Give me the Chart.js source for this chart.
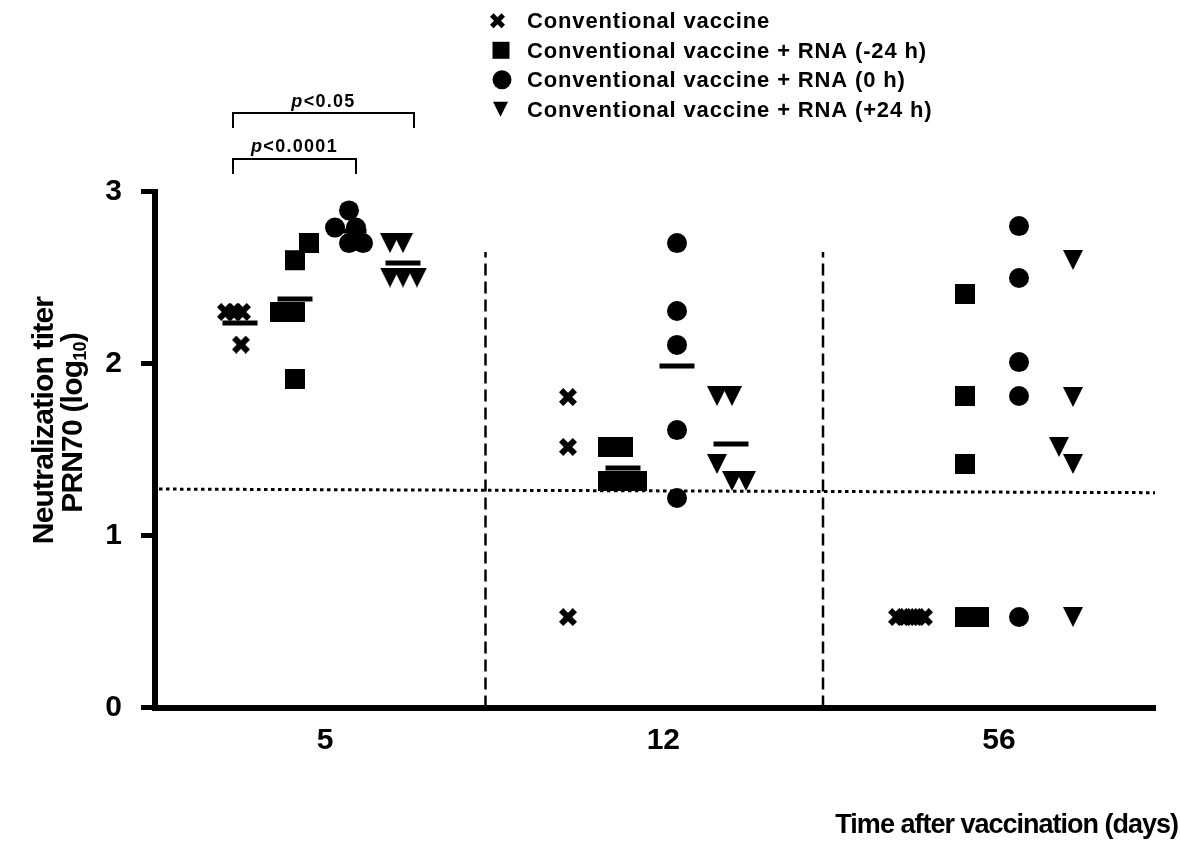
<!DOCTYPE html>
<html>
<head>
<meta charset="utf-8">
<script src="https://cdn.jsdelivr.net/npm/chart.js@4.4.1/dist/chart.umd.min.js"></script>
<style>
html,body{margin:0;padding:0;background:#fff;}
#c{display:block;}
</style>
</head>
<body>
<canvas id="c" width="1180" height="852"></canvas>
<script>
// ---------------- data ----------------
const days = ['5', '12', '56'];
const seriesNames = [
  'Conventional vaccine',
  'Conventional vaccine + RNA (-24 h)',
  'Conventional vaccine + RNA (0 h)',
  'Conventional vaccine + RNA (+24 h)'
];
// x: position on the day axis (group i spans i..i+1), y: log10 titer
const convX   = [0.213, 0.237, 0.261, 0.258,  1.239, 1.239, 1.239,  2.226, 2.247, 2.268, 2.286, 2.307];
const convY   = [2.30, 2.30, 2.30, 2.11,      1.805, 1.515, 0.526,  0.526, 0.526, 0.526, 0.526, 0.526];
const rnaM24X = [0.420, 0.462, 0.375, 0.420, 0.420,  1.359, 1.404, 1.359, 1.402, 1.446,  2.430, 2.430, 2.430, 2.430, 2.472];
const rnaM24Y = [2.60, 2.70, 2.30, 2.30, 1.91,       1.515, 1.515, 1.317, 1.317, 1.317,  2.404, 1.811, 1.416, 0.526, 0.526];
const rna0X   = [0.582, 0.540, 0.603, 0.582, 0.624,  1.566, 1.566, 1.566, 1.566, 1.566,  2.592, 2.592, 2.592, 2.592, 2.592];
const rna0Y   = [2.89, 2.79, 2.79, 2.70, 2.70,       2.70, 2.305, 2.108, 1.613, 1.218,   2.799, 2.497, 2.008, 1.811, 0.526];
const rnaP24X = [0.705, 0.744, 0.705, 0.744, 0.786,  1.686, 1.731, 1.686, 1.731, 1.773,  2.754, 2.754, 2.712, 2.754, 2.754];
const rnaP24Y = [2.70, 2.70, 2.50, 2.50, 2.50,       1.811, 1.811, 1.416, 1.317, 1.317,  2.602, 1.805, 1.515, 1.416, 0.526];
// group means (horizontal bars)
const meanX = [0.255, 0.420, 0.582, 0.744,  1.404, 1.566, 1.728];
const meanY = [2.235, 2.375, 2.77, 2.584,   1.392, 1.985, 1.532];
// limit of detection (dotted) and day dividers (dashed)
const lodX = [0.012, 3];
const lodY = [1.27, 1.249];
const dividerX = [0.9915, 2.004];
const dividerY = [0, 2.648];
const yTicks = [0, 1, 2, 3];
const dayTickPos = [0.51, 1.525, 2.532];
const brackets = [
  { from: 0.234, to: 0.777, level: 3.456, label: '<0.05' },
  { from: 0.234, to: 0.603, level: 3.189, label: '<0.0001' }
];

// ---------------- helpers ----------------
const FONT = '"Liberation Sans", Arial, Helvetica, sans-serif';
const zip = (xs, ys) => xs.map((x, i) => ({ x: x, y: ys[i] }));

function drawMarker(ctx, kind, x, y, s) {
  ctx.save();
  ctx.fillStyle = '#000';
  ctx.strokeStyle = '#000';
  if (kind === 'cross') {
    const lw = s / 3;
    const a = s / 2 - lw / (2 * Math.SQRT2);
    ctx.lineWidth = lw;
    ctx.lineCap = 'butt';
    ctx.beginPath();
    ctx.moveTo(x - a, y - a); ctx.lineTo(x + a, y + a);
    ctx.moveTo(x + a, y - a); ctx.lineTo(x - a, y + a);
    ctx.stroke();
  } else if (kind === 'square') {
    ctx.fillRect(x - s / 2, y - s / 2, s, s);
  } else if (kind === 'circle') {
    ctx.beginPath(); ctx.arc(x, y, s / 2, 0, Math.PI * 2); ctx.fill();
  } else if (kind === 'tri') {
    ctx.beginPath();
    ctx.moveTo(x - s / 2, y - s / 2); ctx.lineTo(x + s / 2, y - s / 2); ctx.lineTo(x, y + s / 2);
    ctx.closePath(); ctx.fill();
  }
  ctx.restore();
}
function markerCanvas(kind, s) {
  const c = document.createElement('canvas');
  c.width = s; c.height = s;
  drawMarker(c.getContext('2d'), kind, s / 2, s / 2, s);
  return c;
}
const crossImg = markerCanvas('cross', 18);
const triImg = markerCanvas('tri', 20);

const legendKinds = ['cross', 'square', 'circle', 'tri'];
const legendSizes = [15, 17, 19, 15];
const legendMarkerX = [497.5, 501, 502, 500.5];

const extras = {
  id: 'extras',
  afterDraw(chart) {
    const ctx = chart.ctx;
    const xs = chart.scales.x, ys = chart.scales.y;
    ctx.save();
    ctx.fillStyle = '#000';
    ctx.strokeStyle = '#000';

    // legend
    ctx.font = 'bold 22px ' + FONT;
    ctx.letterSpacing = '0.85px';
    ctx.textAlign = 'left';
    ctx.textBaseline = 'alphabetic';
    seriesNames.forEach((t, i) => {
      const base = 28.3 + i * 29.5;
      drawMarker(ctx, legendKinds[i], legendMarkerX[i], base - 7.5, legendSizes[i]);
      ctx.fillText(t, 527, base);
    });

    // significance brackets
    brackets.forEach(b => {
      const x1 = xs.getPixelForValue(b.from);
      const x2 = xs.getPixelForValue(b.to);
      const yy = ys.getPixelForValue(b.level);
      ctx.lineWidth = 2;
      ctx.beginPath();
      ctx.moveTo(x1, yy + 15); ctx.lineTo(x1, yy); ctx.lineTo(x2, yy); ctx.lineTo(x2, yy + 15);
      ctx.stroke();
      ctx.letterSpacing = '1.3px';
      ctx.font = 'italic bold 18px ' + FONT;
      const wp = ctx.measureText('p').width;
      ctx.font = 'bold 18px ' + FONT;
      const wr = ctx.measureText(b.label).width;
      const start = (x1 + x2) / 2 - (wp + wr) / 2;
      ctx.font = 'italic bold 18px ' + FONT;
      ctx.fillText('p', start, yy - 6.5);
      ctx.font = 'bold 18px ' + FONT;
      ctx.fillText(b.label, start + wp, yy - 6.5);
    });

    // y-axis title (two lines, with subscript)
    ctx.textAlign = 'center';
    ctx.font = 'bold 30px ' + FONT;
    ctx.letterSpacing = '-0.8px';
    ctx.save();
    ctx.translate(53, 420.5);
    ctx.rotate(-Math.PI / 2);
    ctx.fillText('Neutralization titer', 0, 0);
    ctx.restore();
    ctx.save();
    ctx.translate(82, 423);
    ctx.rotate(-Math.PI / 2);
    ctx.textAlign = 'left';
    const p1 = 'PRN70 (log', p2 = '10', p3 = ')';
    ctx.font = 'bold 30px ' + FONT;
    const w1 = ctx.measureText(p1).width, w3 = ctx.measureText(p3).width;
    ctx.font = 'bold 18px ' + FONT;
    const w2 = ctx.measureText(p2).width;
    let sx = -(w1 + w2 + w3) / 2;
    ctx.font = 'bold 30px ' + FONT;
    ctx.fillText(p1, sx, 0); sx += w1;
    ctx.font = 'bold 18px ' + FONT;
    ctx.fillText(p2, sx, 4); sx += w2;
    ctx.font = 'bold 30px ' + FONT;
    ctx.fillText(p3, sx, 0);
    ctx.restore();

    // x-axis title
    ctx.textAlign = 'right';
    ctx.font = 'bold 27px ' + FONT;
    ctx.letterSpacing = '-1px';
    ctx.fillText('Time after vaccination (days)', 1178, 833);
    ctx.restore();
  }
};

Chart.defaults.font.family = FONT;
Chart.defaults.color = '#000';

new Chart(document.getElementById('c'), {
  type: 'scatter',
  data: {
    datasets: [
      { label: seriesNames[0], data: zip(convX, convY), pointStyle: crossImg, pointRadius: 9 },
      { label: seriesNames[1], data: zip(rnaM24X, rnaM24Y), pointStyle: 'rect', pointRadius: 14.142,
        pointBorderWidth: 0, pointBackgroundColor: '#000' },
      { label: seriesNames[2], data: zip(rna0X, rna0Y), pointStyle: 'circle', pointRadius: 10,
        pointBorderWidth: 0, pointBackgroundColor: '#000' },
      { label: seriesNames[3], data: zip(rnaP24X, rnaP24Y), pointStyle: triImg, pointRadius: 10 },
      { label: 'mean', data: zip(meanX, meanY), pointStyle: 'line', pointRadius: 17.5,
        pointBorderWidth: 5, pointBorderColor: '#000' },
      { label: 'LOD', data: zip(lodX, lodY), showLine: true, pointRadius: 0, borderColor: '#000',
        borderWidth: 3, borderDash: [3.5, 3.5], tension: 0 },
      { label: 'div1', data: dividerY.map(v => ({ x: dividerX[0], y: v })), showLine: true, pointRadius: 0,
        borderColor: '#000', borderWidth: 2.5, borderDash: [12, 6] },
      { label: 'div2', data: dividerY.map(v => ({ x: dividerX[1], y: v })), showLine: true, pointRadius: 0,
        borderColor: '#000', borderWidth: 2.5, borderDash: [12, 6] }
    ]
  },
  options: {
    responsive: false,
    animation: false,
    events: [],
    layout: { padding: { top: 191.5, right: 25, left: 0, bottom: 0 } },
    plugins: { legend: { display: false }, tooltip: { enabled: false }, title: { display: false } },
    scales: {
      x: {
        type: 'linear', min: 0, max: 3,
        afterFit(s) { s.height = 144.5; },
        afterBuildTicks(s) { s.ticks = dayTickPos.map(v => ({ value: v })); },
        ticks: { callback: (v, i) => days[i], font: { size: 30, weight: 'bold' }, color: '#000',
                 padding: 15.5, maxRotation: 0, autoSkip: false },
        grid: { display: false, drawTicks: false },
        border: { display: true, width: 6, color: '#000' }
      },
      y: {
        type: 'linear', min: 0, max: 3,
        afterFit(s) { s.width = 155; },
        afterBuildTicks(s) { s.ticks = yTicks.map(v => ({ value: v })); },
        ticks: { font: { size: 30, weight: 'bold' }, color: '#000', padding: 19 },
        grid: { display: true, drawOnChartArea: false, drawTicks: true, tickLength: 14,
                tickWidth: 5, tickColor: '#000', color: '#000' },
        border: { display: true, width: 6, color: '#000' }
      }
    }
  },
  plugins: [extras]
});
</script>
</body>
</html>
